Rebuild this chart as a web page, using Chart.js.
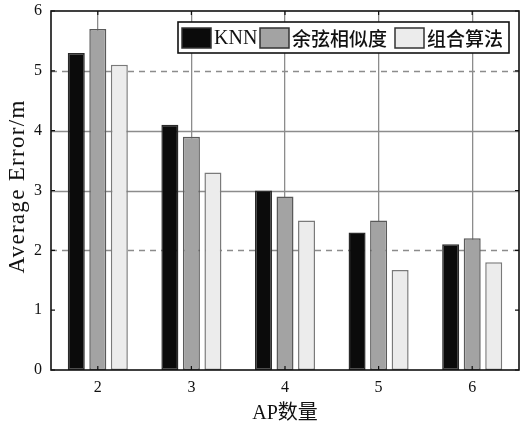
<!DOCTYPE html>
<html>
<head>
<meta charset="utf-8">
<script src="https://cdn.jsdelivr.net/npm/chart.js@4/dist/chart.umd.min.js"></script>
<style>
  html, body { margin: 0; padding: 0; background: #fff; }
  #wrap { width: 520px; height: 426px; }
</style>
</head>
<body>
<div id="wrap"><canvas id="c" width="520" height="426"></canvas></div>
<script>
// AP count on the x axis
const categories = ['2', '3', '4', '5', '6'];
// Average positioning error (m) per method
const knn = [5.3, 4.1, 3.0, 2.3, 2.1];
const cosine = [5.7, 3.9, 2.9, 2.5, 2.2];
const combined = [5.1, 3.3, 2.5, 1.67, 1.8];
const seriesNames = ['KNN', '余弦相似度', '组合算法'];
const yTicks = [0, 1, 2, 3, 4, 5, 6];
const yTitle = 'Average Error/m';
// grid lines: value -> dashed?
const gridDashed = { 5: true, 4: false, 3: false, 2: true };

const SERIF = "'Liberation Serif', 'Times New Roman', 'Noto Sans CJK SC', serif";
const CJK = "'Noto Sans CJK SC', sans-serif";

const fills = ['#0b0b0b', '#a3a3a3', '#ececec'];
const edges = ['#2a2a2a', '#5a5a5a', '#7a7a7a'];

// horizontal grid, frame, inward ticks, y title and the boxed legend
const decor = {
  id: 'decor',
  beforeDatasetsDraw(chart) {
    const { ctx, chartArea: a, scales: { y } } = chart;
    ctx.save();
    ctx.strokeStyle = '#8c8c8c';
    ctx.lineWidth = 1.3;
    Object.keys(gridDashed).forEach(v => {
      const py = Math.round(y.getPixelForValue(+v)) + 0.5;
      ctx.setLineDash(gridDashed[v] ? [6, 5] : []);
      ctx.beginPath();
      ctx.moveTo(a.left, py);
      ctx.lineTo(a.right, py);
      ctx.stroke();
    });
    ctx.restore();
  },
  afterDraw(chart) {
    const { ctx, chartArea: a, scales: { x, y } } = chart;
    ctx.save();
    ctx.strokeStyle = '#111';
    ctx.lineWidth = 1.6;
    ctx.setLineDash([]);
    ctx.strokeRect(a.left, a.top, a.right - a.left, a.bottom - a.top);
    ctx.lineWidth = 1.2;
    ctx.beginPath();
    yTicks.forEach(v => {
      const py = y.getPixelForValue(v);
      ctx.moveTo(a.left, py); ctx.lineTo(a.left + 4, py);
      ctx.moveTo(a.right, py); ctx.lineTo(a.right - 4, py);
    });
    categories.forEach((c, i) => {
      const px = x.getPixelForValue(i);
      ctx.moveTo(px, a.top); ctx.lineTo(px, a.top + 4);
      ctx.moveTo(px, a.bottom); ctx.lineTo(px, a.bottom - 4);
    });
    ctx.stroke();

    // rotated y-axis title, slightly letter-spaced
    ctx.save();
    ctx.translate(18, (a.top + a.bottom) / 2 - 4);
    ctx.rotate(-Math.PI / 2);
    ctx.font = '23px ' + SERIF;
    if ('letterSpacing' in ctx) ctx.letterSpacing = '1.3px';
    ctx.fillStyle = '#111';
    ctx.textAlign = 'center';
    ctx.textBaseline = 'middle';
    ctx.fillText(yTitle, 0, 0);
    ctx.restore();

    // legend
    const box = { l: 178, t: 22, r: 509, b: 53 };
    ctx.fillStyle = '#fff';
    ctx.fillRect(box.l, box.t, box.r - box.l, box.b - box.t);
    ctx.lineWidth = 1.6;
    ctx.strokeStyle = '#111';
    ctx.strokeRect(box.l, box.t, box.r - box.l, box.b - box.t);
    const swX = [182, 260, 395];
    const fonts = ['20px ' + SERIF, '500 19px ' + CJK, '500 19px ' + CJK];
    ctx.textBaseline = 'middle';
    chart.data.datasets.forEach((ds, i) => {
      ctx.fillStyle = ds.backgroundColor;
      ctx.fillRect(swX[i], 28, 29, 20);
      ctx.lineWidth = 1.5;
      ctx.strokeStyle = '#333';
      ctx.strokeRect(swX[i], 28, 29, 20);
      ctx.fillStyle = '#111';
      ctx.font = fonts[i];
      ctx.fillText(ds.label, swX[i] + 32, 38.5);
    });
    ctx.restore();
  }
};

new Chart(document.getElementById('c'), {
  type: 'bar',
  data: {
    labels: categories,
    datasets: [knn, cosine, combined].map((d, i) => ({
      label: seriesNames[i],
      data: d,
      backgroundColor: fills[i],
      borderColor: edges[i],
      borderWidth: 1.5,
      borderSkipped: false,
      categoryPercentage: 0.69,
      barPercentage: 0.79
    }))
  },
  options: {
    responsive: false,
    animation: false,
    devicePixelRatio: 1,
    layout: { padding: { top: 11, right: 1, left: 0, bottom: 0 } },
    plugins: { legend: { display: false }, tooltip: { enabled: false } },
    scales: {
      x: {
        grid: { display: true, offset: false, color: '#8c8c8c', lineWidth: 1.3, drawTicks: false },
        border: { display: false },
        ticks: { color: '#111', font: { family: SERIF, size: 16 }, padding: 8 },
        title: {
          display: true, text: 'AP数量', color: '#111',
          font: { family: SERIF, size: 20 }, padding: { top: 3, bottom: 0 }
        },
        afterFit(s) { s.height = 56; }
      },
      y: {
        min: 0, max: 6,
        grid: { display: false, drawTicks: false },
        border: { display: false },
        ticks: { stepSize: 1, color: '#111', font: { family: SERIF, size: 16 }, padding: 9 },
        title: { display: false },
        afterFit(s) { s.width = 51; s.paddingTop = 0; s.paddingBottom = 0; }
      }
    }
  },
  plugins: [decor]
});
</script>
</body>
</html>
